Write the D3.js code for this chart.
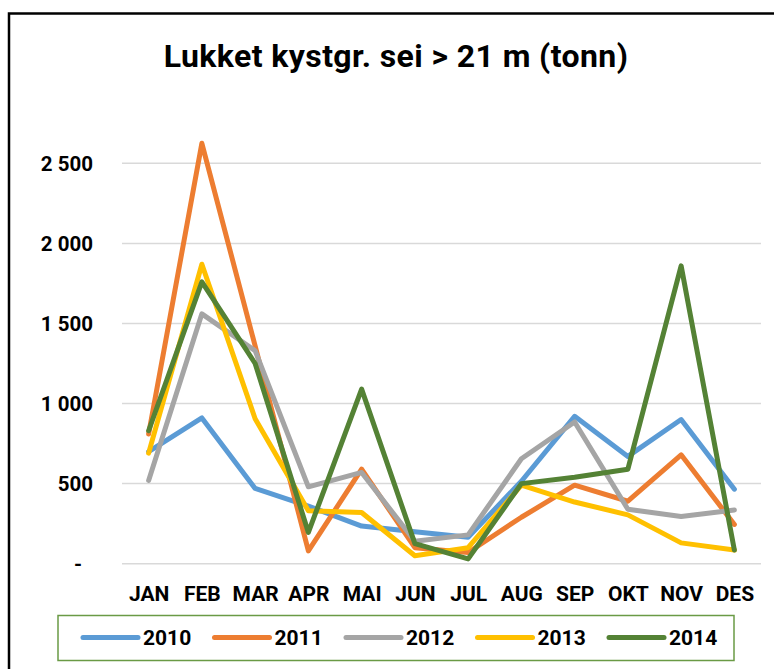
<!DOCTYPE html>
<html>
<head>
<meta charset="utf-8">
<script src="https://cdnjs.cloudflare.com/ajax/libs/d3/7.8.5/d3.min.js"></script>
<style>
  body { margin: 0; background: #fff; }
  svg text { font-family: Roboto, "Liberation Sans", sans-serif; font-weight: bold; fill: #000; }
</style>
</head>
<body>
<svg id="chart" width="774" height="669"></svg>
<script>
// Donnees (tonn par maned)
var months = ['JAN','FEB','MAR','APR','MAI','JUN','JUL','AUG','SEP','OKT','NOV','DES'];
var years = ['2010','2011','2012','2013','2014'];
var v2010 = [700, 910, 470, 360, 235, 200, 165, 515, 920, 670, 900, 465];
var v2011 = [810, 2625, 1360, 80, 590, 100, 70, 290, 490, 390, 680, 245];
var v2012 = [520, 1560, 1330, 480, 570, 140, 180, 655, 885, 340, 295, 335];
var v2013 = [690, 1870, 905, 330, 320, 50, 100, 490, 385, 305, 130, 85];
var v2014 = [830, 1760, 1250, 195, 1090, 125, 30, 500, 540, 590, 1860, 85];
var yTicks = [0, 500, 1000, 1500, 2000, 2500];
var colors = ['#5B9BD5', '#ED7D31', '#A5A5A5', '#FFC000', '#548235'];

var series = [v2010, v2011, v2012, v2013, v2014];

var svg = d3.select('#chart');

// cadre autour du graphique
svg.append('rect')
  .attr('x', 9).attr('y', 13.5)
  .attr('width', 820).attr('height', 720)
  .attr('fill', 'none')
  .attr('stroke', '#000')
  .attr('stroke-width', 2.5);

// titre
svg.append('text')
  .attr('x', 396).attr('y', 67)
  .attr('text-anchor', 'middle')
  .style('font-size', '32px')
  .style('letter-spacing', '0.4px')
  .text('Lukket kystgr. sei > 21 m (tonn)');

// echelles
var x = d3.scalePoint().domain(months).range([122, 761]).padding(0.5);
var y = d3.scaleLinear().domain([0, 2500]).range([563.7, 163.3]);

// grille horizontale
svg.append('g').selectAll('line')
  .data(yTicks)
  .enter().append('line')
  .attr('x1', 122).attr('x2', 761)
  .attr('y1', function(d) { return y(d); })
  .attr('y2', function(d) { return y(d); })
  .attr('stroke', '#d9d9d9')
  .attr('stroke-width', 1.5);

// axe y (format norvegien, 0 = "-")
function fmt(d) {
  if (d === 0) return '-';
  return d3.format(',')(d).replace(/,/g, ' ');
}
var yAxis = svg.append('g')
  .attr('transform', 'translate(93,0)')
  .call(d3.axisLeft(y).tickValues(yTicks).tickSize(0).tickPadding(0).tickFormat(fmt));
yAxis.select('.domain').remove();
yAxis.selectAll('text')
  .style('font-size', '20.5px')
  .attr('dy', '0.35em')
  .attr('dx', function(d) { return d === 0 ? -11 : 0; });

// axe x
var xAxis = svg.append('g')
  .attr('transform', 'translate(0,594)')
  .call(d3.axisBottom(x).tickSize(0).tickPadding(0));
xAxis.select('.domain').remove();
xAxis.selectAll('text')
  .style('font-size', '21px')
  .attr('dy', '0.35em');

// courbes
var line = d3.line()
  .x(function(d, i) { return x(months[i]); })
  .y(function(d) { return y(d); });

svg.append('g').selectAll('path')
  .data(series)
  .enter().append('path')
  .attr('d', line)
  .attr('fill', 'none')
  .attr('stroke', function(d, i) { return colors[i]; })
  .attr('stroke-width', 5)
  .attr('stroke-linejoin', 'round')
  .attr('stroke-linecap', 'round');

// legende
svg.append('rect')
  .attr('x', 58).attr('y', 615.5)
  .attr('width', 676).attr('height', 45)
  .attr('fill', '#fff')
  .attr('stroke', '#6a9a45')
  .attr('stroke-width', 1.5);

var legend = svg.append('g').selectAll('g')
  .data(years)
  .enter().append('g')
  .attr('transform', function(d, i) { return 'translate(' + (83 + i * 131.5) + ',637.5)'; });

legend.append('line')
  .attr('x1', 0).attr('x2', 55)
  .attr('stroke', function(d, i) { return colors[i]; })
  .attr('stroke-width', 5)
  .attr('stroke-linecap', 'round');

legend.append('text')
  .attr('x', 60)
  .attr('dy', '0.35em')
  .style('font-size', '21px')
  .text(function(d) { return d; });
</script>
</body>
</html>
